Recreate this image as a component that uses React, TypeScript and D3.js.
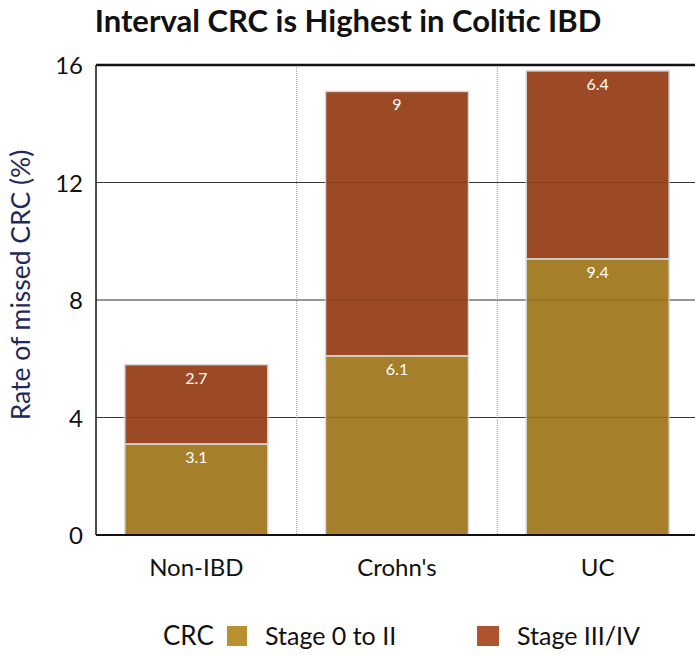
import React from "react";
import * as d3 from "d3";

const categories = ["Non-IBD", "Crohn's", "UC"];
const stageEarly = [3.1, 6.1, 9.4];
const stageLate = [2.7, 9, 6.4];
const yTicks = [0, 4, 8, 12, 16];
const seriesNames = ["Stage 0 to II", "Stage III/IV"];
const colors = ["#a67f2a", "#9c4a25"];

export default function App() {
  const W = 695, H = 655;
  const left = 96, right = 698, top = 65, bottom = 535;
  const x = d3.scaleBand<string>().domain(categories).range([left, right]).paddingInner(0).paddingOuter(0);
  const y = d3.scaleLinear().domain([0, 16]).range([bottom, top]);
  const barW = 143;
  const font = "Lato, 'Open Sans', sans-serif";

  const stacks = categories.map((c, i) => {
    const a = stageEarly[i], b = stageLate[i];
    return [
      { c, y0: 0, y1: a, v: a, color: colors[0] },
      { c, y0: a, y1: a + b, v: b, color: colors[1] },
    ];
  });

  return (
    <svg width={W} height={H} style={{ position: "absolute", left: 0, top: 0, background: "#fff" }}>
      <text x={348} y={32} textAnchor="middle" fontFamily={font} fontWeight="bold" fontSize={31} fill="#111">
        Interval CRC is Highest in Colitic IBD
      </text>
      {/* gridlines */}
      {yTicks.filter(t => t > 0 && t < 16).map(t => (
        <line key={t} x1={left} x2={W} y1={y(t)} y2={y(t)} stroke="#444" strokeWidth={1} />
      ))}
      {/* category separators */}
      {categories.slice(1).map(c => (
        <line key={c} x1={x(c)!} x2={x(c)!} y1={top} y2={bottom} stroke="#999" strokeWidth={1} strokeDasharray="1,1" />
      ))}
      {/* bars */}
      {stacks.map((segs, i) => (
        <g key={i}>
          {segs.map((s, j) => {
            const cx = x(s.c)! + x.bandwidth() / 2;
            return (
              <g key={j}>
                <rect x={cx - barW / 2} y={y(s.y1)} width={barW} height={y(s.y0) - y(s.y1)}
                  fill={s.color} stroke="#d8d8d8" strokeWidth={1.5} />
                <text x={cx} y={y(s.y1) + 19} textAnchor="middle" fontFamily={font} fontSize={16} fill="#fff">
                  {String(s.v)}
                </text>
              </g>
            );
          })}
        </g>
      ))}
      {/* faint gridline overlay */}
      {yTicks.filter(t => t > 0 && t < 16).map(t => (
        <line key={"o" + t} x1={left} x2={W} y1={y(t)} y2={y(t)} stroke="#000" strokeOpacity={0.15} strokeWidth={1} />
      ))}
      {/* axes frame */}
      <line x1={left} x2={W} y1={y(16)} y2={y(16)} stroke="#111" strokeWidth={2.5} />
      <line x1={left} x2={W} y1={bottom} y2={bottom} stroke="#111" strokeWidth={2} />
      <line x1={left} x2={left} y1={top} y2={bottom} stroke="#111" strokeWidth={1.5} />
      {yTicks.map(t => (
        <text key={t} x={83} y={y(t) + 9} textAnchor="end" fontFamily={font} fontSize={24} fill="#111">{t}</text>
      ))}
      <text transform={`translate(30,285) rotate(-90)`} textAnchor="middle"
        fontFamily={font} fontSize={26.5} fill="#1f2a5a">Rate of missed CRC (%)</text>
      {categories.map(c => (
        <text key={c} x={x(c)! + x.bandwidth() / 2} y={576} textAnchor="middle" fontFamily={font} fontSize={24} fill="#111">{c}</text>
      ))}
      {/* legend */}
      <text x={163} y={645} fontFamily={font} fontSize={26} fill="#111">CRC</text>
      <rect x={227} y={626} width={20} height={20} fill="#b8902f" />
      <text x={265} y={645} fontFamily={font} fontSize={25} fill="#111">{seriesNames[0]}</text>
      <rect x={477} y={626} width={22} height={20} fill="#ae5430" />
      <text x={517} y={645} fontFamily={font} fontSize={25} fill="#111">{seriesNames[1]}</text>
    </svg>
  );
}
